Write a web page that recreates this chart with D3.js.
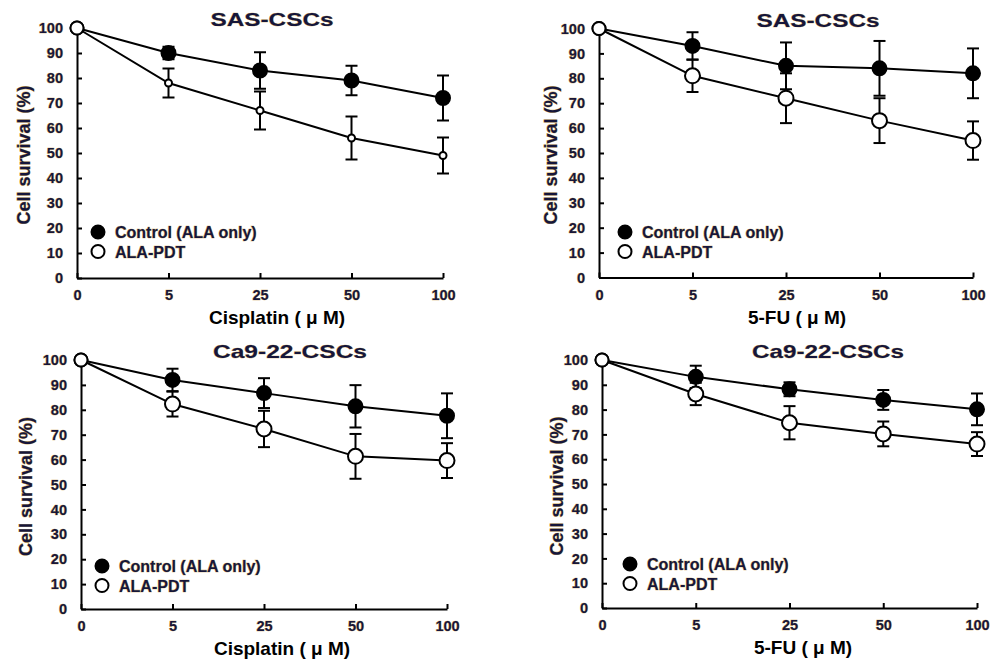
<!DOCTYPE html>
<html>
<head>
<meta charset="utf-8">
<script src="https://cdn.jsdelivr.net/npm/d3@7"></script>
<style>
  body { margin: 0; background: #fff; }
  svg text { font-family: "Liberation Sans", Arial, sans-serif; font-weight: bold; }
  .lbl { fill: #16163a; stroke: #d0a850; stroke-width: 0.7px; paint-order: stroke; }
</style>
</head>
<body>
<div id="chart"></div>
<script>
// dose levels on the x axis (categorical, equally spaced)
var doses = ["0", "5", "25", "50", "100"];
var yTicks = [0, 10, 20, 30, 40, 50, 60, 70, 80, 90, 100];
var seriesNames = ["Control (ALA only)", "ALA-PDT"];

// SAS-CSCs, cisplatin
var sasCisCtrl = [100, 90, 83, 79, 72];
var sasCisCtrlErr = [0, 2.5, 7.3, 5.9, 9];
var sasCisPdt = [100, 78, 67, 56, 49];
var sasCisPdtErr = [0, 5.8, 7.6, 8.6, 7.2];

// SAS-CSCs, 5-FU
var sas5fuCtrl = [100, 93, 85, 84, 82];
var sas5fuCtrlErr = [0, 5.5, 9.4, 11, 10];
var sas5fuPdt = [100, 81, 72, 63, 55];
var sas5fuPdtErr = [0, 6.5, 10, 9, 7.7];

// Ca9-22-CSCs, cisplatin
var caCisCtrl = [100, 92, 86.7, 81.4, 77.6];
var caCisCtrlErr = [0, 4.5, 6, 8.5, 9];
var caCisPdt = [100, 82.3, 72.3, 61.3, 59.6];
var caCisPdtErr = [0, 5, 7.3, 9, 7];

// Ca9-22-CSCs, 5-FU
var ca5fuCtrl = [100, 93.2, 88.2, 83.9, 80.1];
var ca5fuCtrlErr = [0, 4.5, 2.8, 4, 6.4];
var ca5fuPdt = [100, 86.3, 74.7, 70.2, 66.1];
var ca5fuPdtErr = [0, 4.5, 6.7, 5, 4.8];

// layout of the four panels
var panels = [
  {title: "SAS-CSCs", xlab: "Cisplatin ( \u03bc M)", ctrl: sasCisCtrl, ctrlErr: sasCisCtrlErr, pdt: sasCisPdt, pdtErr: sasCisPdtErr,
   x0: 77, x1: 443, yTop: 28, yBot: 278, titleX: 272, titleW: 123, xlabX: 277, ylabX: 24, legX: 98, legY: 232, pdtR: 3.5},
  {title: "SAS-CSCs", xlab: "5-FU ( \u03bc M)", ctrl: sas5fuCtrl, ctrlErr: sas5fuCtrlErr, pdt: sas5fuPdt, pdtErr: sas5fuPdtErr,
   x0: 599, x1: 973, yTop: 28.5, yBot: 277.5, titleX: 818, titleW: 123, xlabX: 797, ylabX: 551, legX: 625, legY: 232, pdtR: 7.5},
  {title: "Ca9-22-CSCs", xlab: "Cisplatin ( \u03bc M)", ctrl: caCisCtrl, ctrlErr: caCisCtrlErr, pdt: caCisPdt, pdtErr: caCisPdtErr,
   x0: 81, x1: 447, yTop: 360, yBot: 609, titleX: 290, titleW: 154, xlabX: 282, ylabX: 26, legX: 102, legY: 566, pdtR: 7.5},
  {title: "Ca9-22-CSCs", xlab: "5-FU ( \u03bc M)", ctrl: ca5fuCtrl, ctrlErr: ca5fuCtrlErr, pdt: ca5fuPdt, pdtErr: ca5fuPdtErr,
   x0: 602, x1: 977, yTop: 360, yBot: 608, titleX: 828, titleW: 152, xlabX: 803, ylabX: 557, legX: 630, legY: 564, pdtR: 7.5}
];

var svg = d3.select("#chart").append("svg")
    .attr("width", 1002)
    .attr("height", 660);

panels.forEach(function(p) {
    var g = svg.append("g");

    var x = d3.scalePoint().domain(doses).range([p.x0, p.x1]);
    var y = d3.scaleLinear().domain([0, 100]).range([p.yBot, p.yTop]);

    // axes with inward ticks
    var yAxis = g.append("g")
        .attr("transform", "translate(" + p.x0 + ",0)")
        .call(d3.axisLeft(y).tickValues(yTicks).tickSizeInner(-5).tickSizeOuter(0).tickPadding(14));
    var xAxis = g.append("g")
        .attr("transform", "translate(0," + p.yBot + ")")
        .call(d3.axisBottom(x).tickSizeInner(-5).tickSizeOuter(0).tickPadding(12));

    [yAxis, xAxis].forEach(function(a) {
        a.select(".domain").attr("stroke", "#000").attr("stroke-width", 2);
        a.selectAll(".tick line").attr("stroke", "#000").attr("stroke-width", 2);
        a.selectAll(".tick text")
            .attr("class", "lbl")
            .style("font-size", "14.5px")
            .attr("fill", null);
    });

    // title
    g.append("text")
        .attr("class", "lbl")
        .attr("x", p.titleX)
        .attr("y", p.yTop - 2)
        .attr("text-anchor", "middle")
        .attr("textLength", p.titleW)
        .attr("lengthAdjust", "spacingAndGlyphs")
        .style("font-size", "19px")
        .style("stroke-width", "0.5px")
        .text(p.title);

    // x label (plain black in the original)
    g.append("text")
        .attr("x", p.xlabX)
        .attr("y", p.yBot + 46)
        .attr("text-anchor", "middle")
        .attr("fill", "#000")
        .style("font-size", "19px")
        .text(p.xlab);

    // y label
    g.append("text")
        .attr("class", "lbl")
        .attr("transform", "translate(" + (p.ylabX + 6) + "," + ((p.yTop + p.yBot) / 2 + 2) + ") rotate(-90)")
        .attr("text-anchor", "middle")
        .style("font-size", "18px")
        .text("Cell survival (%)");

    var series = [
        {vals: p.ctrl, err: p.ctrlErr, fill: "#000", r: 7},
        {vals: p.pdt, err: p.pdtErr, fill: "#fff", r: p.pdtR}
    ];

    // error bars (behind lines and markers)
    series.forEach(function(s) {
        var eg = g.append("g").attr("stroke", "#000").attr("stroke-width", 2);
        doses.forEach(function(d, i) {
            if (!s.err[i]) return;
            var cx = x(d), hi = y(s.vals[i] + s.err[i]), lo = y(s.vals[i] - s.err[i]);
            eg.append("line").attr("x1", cx).attr("x2", cx).attr("y1", hi).attr("y2", lo);
            eg.append("line").attr("x1", cx - 6).attr("x2", cx + 6).attr("y1", hi).attr("y2", hi);
            eg.append("line").attr("x1", cx - 6).attr("x2", cx + 6).attr("y1", lo).attr("y2", lo);
        });
    });

    var line = d3.line()
        .x(function(d, i) { return x(doses[i]); })
        .y(function(d) { return y(d); });

    series.forEach(function(s) {
        g.append("path")
            .datum(s.vals)
            .attr("d", line)
            .attr("fill", "none")
            .attr("stroke", "#000")
            .attr("stroke-width", 2);
    });

    series.forEach(function(s) {
        g.selectAll(null)
            .data(s.vals)
            .enter().append("circle")
            .attr("cx", function(d, i) { return x(doses[i]); })
            .attr("cy", function(d) { return y(d); })
            .attr("r", function(d, i) { return i === 0 ? 6.5 : s.r; })
            .attr("fill", s.fill)
            .attr("stroke", "#000")
            .attr("stroke-width", 2);
    });

    // legend
    var leg = g.append("g").attr("transform", "translate(" + p.legX + "," + p.legY + ")");
    seriesNames.forEach(function(name, i) {
        leg.append("circle")
            .attr("cx", 0)
            .attr("cy", i * 19.5)
            .attr("r", 6.5)
            .attr("fill", i === 0 ? "#000" : "#fff")
            .attr("stroke", "#000")
            .attr("stroke-width", 2);
        leg.append("text")
            .attr("class", "lbl")
            .attr("x", 17)
            .attr("y", i * 19.5 + 6)
            .style("font-size", "16px")
            .text(name);
    });
});
</script>
</body>
</html>
